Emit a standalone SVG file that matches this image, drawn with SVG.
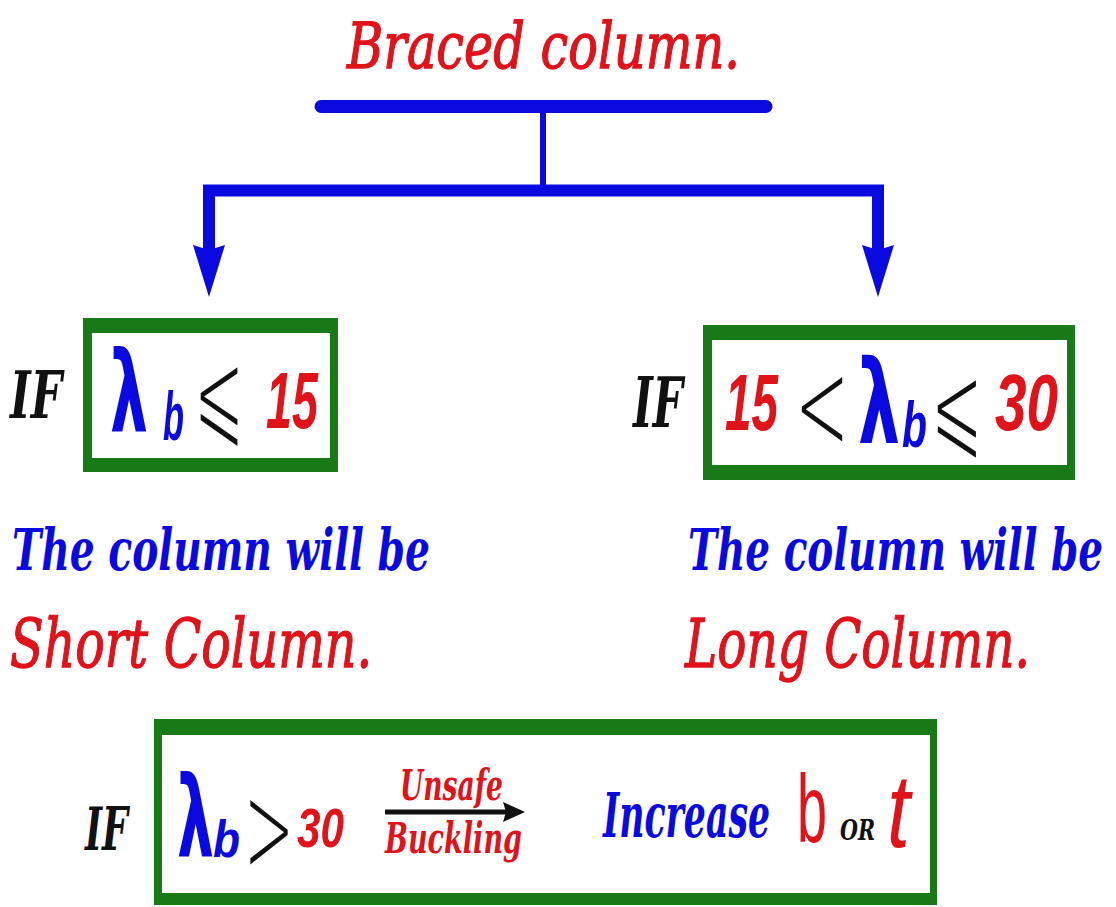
<svg xmlns="http://www.w3.org/2000/svg" width="1116" height="907" viewBox="0 0 1116 907">
<style>
.ser{font-family:"DejaVu Serif","Liberation Serif",serif;font-style:italic}
.bold{font-weight:bold}
.red{fill:#e0121a}
.thick{stroke:#e0121a;stroke-width:1.3}
.blue{fill:#0a0ae0}
.blk{fill:#111}
.sym{font-family:"DejaVu Sans","Liberation Sans",sans-serif;font-weight:200}
.le{font-family:"DejaVu Sans","Liberation Sans",sans-serif;font-weight:normal;fill:#111;stroke:#fff;stroke-width:4}
.lam{font-family:"DejaVu Sans","Liberation Sans",sans-serif;font-weight:bold;fill:#0a0ae0}
.sub{font-family:"Liberation Sans","DejaVu Sans",sans-serif;font-style:italic;font-weight:bold;fill:#0a0ae0}
.num{font-family:"Liberation Sans","DejaVu Sans",sans-serif;font-style:italic;font-weight:bold;fill:#e0121a}
.ifx{font-family:"DejaVu Serif","Liberation Serif",serif;font-style:italic;font-weight:bold;fill:#111}
.gout{fill:#177a17}
.gin{fill:#fff}
.conn{fill:none;stroke:#0a0ae0}
</style>
<defs>
<marker id="bh" markerUnits="userSpaceOnUse" viewBox="0 0 52 32" markerWidth="52" markerHeight="32" refX="10" refY="16" orient="auto">
<path d="M0,0 L52,16 L0,32 L5,16 Z" fill="#0a0ae0"/>
</marker>
<marker id="kh" markerUnits="userSpaceOnUse" viewBox="0 0 22 22" markerWidth="22" markerHeight="22" refX="3" refY="11" orient="auto">
<path d="M0,1 L22,11 L0,21 L3,11 Z" fill="#111"/>
</marker>
</defs>
<rect width="1116" height="907" fill="#fff"/>

<g id="title">
<text class="ser red thick" x="347" y="68" font-size="64" textLength="393" lengthAdjust="spacingAndGlyphs">Braced  column.</text>
</g>

<g id="connectors">
<line class="conn" x1="321" y1="106.5" x2="766" y2="106.5" stroke-width="13" stroke-linecap="round"/>
<line class="conn" x1="543" y1="112" x2="543" y2="186" stroke-width="6"/>
<path class="conn" d="M543,190.5 H209 V255" stroke-width="12" marker-end="url(#bh)"/>
<path class="conn" d="M543,190.5 H878 V255" stroke-width="12" marker-end="url(#bh)"/>
</g>

<g id="node-left">
<text class="ifx" x="10" y="418" font-size="66" textLength="52" lengthAdjust="spacingAndGlyphs">IF</text>
<rect class="gout" x="83" y="318" width="255" height="154"/>
<rect class="gin" x="92" y="333" width="238" height="125"/>
<text class="lam" x="110" y="432" font-size="112" textLength="38" lengthAdjust="spacingAndGlyphs">λ</text>
<text class="sub" x="163" y="440" font-size="68" textLength="21" lengthAdjust="spacingAndGlyphs">b</text>
<text class="le" x="193" y="434" font-size="120" textLength="52" lengthAdjust="spacingAndGlyphs">⩽</text>
<text class="num" x="266" y="428" font-size="80" textLength="52" lengthAdjust="spacingAndGlyphs">15</text>
</g>

<g id="node-right">
<text class="ifx" x="633" y="427" font-size="70" textLength="50" lengthAdjust="spacingAndGlyphs">IF</text>
<rect class="gout" x="703" y="325" width="372" height="155"/>
<rect class="gin" x="712" y="340" width="355" height="125"/>
<text class="num" x="725" y="430" font-size="80" textLength="53" lengthAdjust="spacingAndGlyphs">15</text>
<text class="sym blk" x="795" y="450" font-size="130" textLength="54" lengthAdjust="spacingAndGlyphs">&lt;</text>
<text class="lam" x="858" y="443" font-size="116" textLength="42" lengthAdjust="spacingAndGlyphs">λ</text>
<text class="sub" x="902" y="447" font-size="64" textLength="25" lengthAdjust="spacingAndGlyphs">b</text>
<text class="le" x="930" y="446" font-size="118" textLength="54" lengthAdjust="spacingAndGlyphs">⩽</text>
<text class="num" x="995" y="430" font-size="80" textLength="63" lengthAdjust="spacingAndGlyphs">30</text>
</g>

<g id="text-left">
<text class="ser bold blue" x="12" y="570" font-size="58" textLength="418" lengthAdjust="spacingAndGlyphs">The  column  will  be</text>
<text class="ser red thick" x="10" y="667" font-size="68" textLength="362" lengthAdjust="spacingAndGlyphs">Short  Column.</text>
</g>

<g id="text-right">
<text class="ser bold blue" x="688" y="570" font-size="58" textLength="415" lengthAdjust="spacingAndGlyphs">The  column  will  be</text>
<text class="ser red thick" x="685" y="667" font-size="68" textLength="345" lengthAdjust="spacingAndGlyphs">Long  Column.</text>
</g>

<g id="node-bottom">
<text class="ifx" x="85" y="850" font-size="60" textLength="43" lengthAdjust="spacingAndGlyphs">IF</text>
<rect class="gout" x="154" y="719" width="783" height="186"/>
<rect class="gin" x="162" y="735" width="768" height="158"/>
<text class="lam" x="177" y="857" font-size="112" textLength="37" lengthAdjust="spacingAndGlyphs">λ</text>
<text class="sub" x="213" y="857" font-size="52" textLength="27" lengthAdjust="spacingAndGlyphs">b</text>
<text class="sym blk" x="244" y="873" font-size="130" textLength="50" lengthAdjust="spacingAndGlyphs">&gt;</text>
<text class="num" x="297" y="847" font-size="56" textLength="47" lengthAdjust="spacingAndGlyphs">30</text>
<line x1="385" y1="812" x2="506" y2="812" stroke="#111" stroke-width="5" marker-end="url(#kh)"/>
<text class="ser bold red" x="400" y="800" font-size="42" textLength="103" lengthAdjust="spacingAndGlyphs">Unsafe</text>
<text class="ser bold red" x="385" y="853" font-size="42" textLength="137" lengthAdjust="spacingAndGlyphs">Buckling</text>
<text class="ser bold blue" x="603" y="837" font-size="62" textLength="167" lengthAdjust="spacingAndGlyphs">Increase</text>
<text x="797" y="842" font-family="Liberation Sans, DejaVu Sans, sans-serif" fill="#e0121a" font-size="96" textLength="30" lengthAdjust="spacingAndGlyphs">b</text>
<text class="ser bold blk" x="840" y="840" font-size="28" textLength="35" lengthAdjust="spacingAndGlyphs">OR</text>
<text x="887" y="847" font-family="Liberation Sans, DejaVu Sans, sans-serif" font-style="italic" fill="#e0121a" font-size="104" textLength="23" lengthAdjust="spacingAndGlyphs">t</text>
</g>
</svg>
